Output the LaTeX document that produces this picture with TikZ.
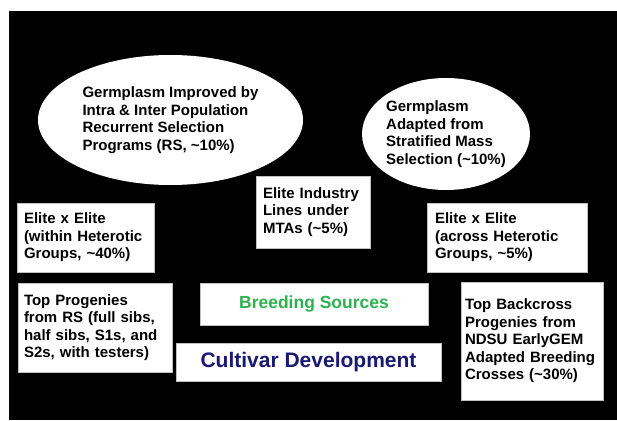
\documentclass[tikz,border=0pt]{standalone}
\usepackage{fontspec}
\setmainfont{Liberation Sans}
\usetikzlibrary{shapes.geometric}
\definecolor{sourcegreen}{RGB}{45,178,80}
\definecolor{cultivarblue}{RGB}{25,25,115}
\hyphenpenalty=10000
\exhyphenpenalty=10000

\begin{document}
\begin{tikzpicture}[x=1pt,y=-1pt]

%
% Styles
%
\tikzstyle{pool}   = [ellipse,fill=white,inner sep=-10pt,align=left,font=\bfseries\fontsize{15}{17.5}\selectfont]
\tikzstyle{source} = [rectangle,draw=gray!50,fill=white,inner ysep=0pt,align=left,font=\bfseries\fontsize{15}{17.5}\selectfont]
\tikzstyle{banner} = [rectangle,draw=gray!50,fill=white,inner sep=0pt]

\useasboundingbox (0,0) rectangle (617,420);
\fill[black] (9,11) rectangle (617,420);

\node[pool,minimum width=265pt,minimum height=130pt] (rs) at (170.5,120)
  {Germplasm Improved by\\Intra \& Inter Population\\Recurrent Selection\\Programs (RS, \textasciitilde10\%)};
\node[pool,minimum width=168pt,minimum height=112pt] (mass) at (446,134)
  {Germplasm\\Adapted from\\Stratified Mass\\Selection (\textasciitilde10\%)};

\node[source,text width=123pt,inner xsep=7pt,minimum height=69pt] (within) at (85.5,237.5)
  {Elite x Elite\\(within Heterotic\\Groups, \textasciitilde40\%)};
\node[source,text width=100pt,inner xsep=7pt,minimum height=72pt] (industry) at (313,212)
  {Elite Industry\\Lines under\\MTAs (\textasciitilde5\%)};
\node[source,text width=144pt,inner xsep=8pt,minimum height=69pt] (across) at (507,237.5)
  {Elite x Elite\\(across Heterotic\\Groups, \textasciitilde5\%)};
\node[source,text width=142pt,inner xsep=6pt,minimum height=89pt] (progenies) at (95,327.5)
  {Top Progenies\\from RS (full sibs,\\half sibs, S1s, and\\S2s, with testers)};
\node[source,text width=134pt,inner xsep=4pt,minimum height=118pt] (backcross) at (532,341)
  {Top Backcross\\Progenies from\\NDSU EarlyGEM\\Adapted Breeding\\Crosses (\textasciitilde30\%)};

\node[banner,minimum width=228pt,minimum height=42pt,text=sourcegreen,
  font=\bfseries\fontsize{17.5}{20}\selectfont] (sources) at (314,304) {Breeding Sources};
\node[banner,minimum width=265pt,minimum height=38pt,text=cultivarblue,
  font=\bfseries\fontsize{21}{24}\selectfont] (cultivar) at (308.5,362) {Cultivar Development};

\end{tikzpicture}
\end{document}
